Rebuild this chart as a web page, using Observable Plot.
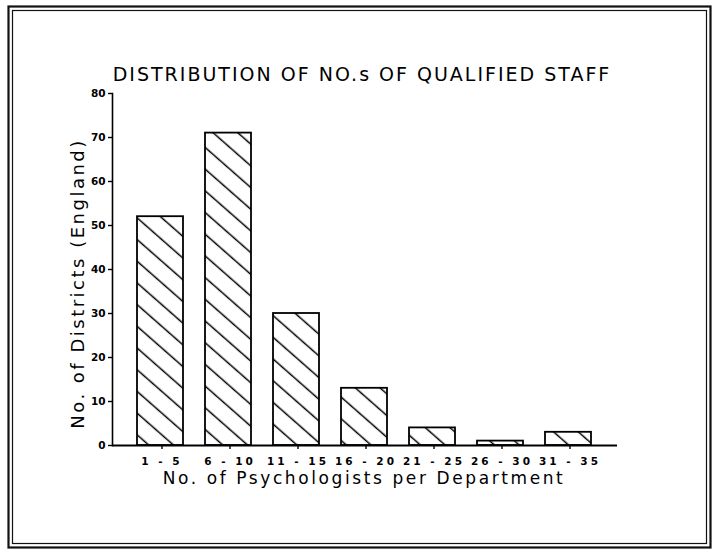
<!DOCTYPE html>
<html>
<head>
<meta charset="utf-8">
<script src="https://cdn.jsdelivr.net/npm/d3@7"></script>
<script src="https://cdn.jsdelivr.net/npm/@observablehq/plot@0.6"></script>
<style>
  html, body { margin: 0; padding: 0; background: #fff; }
  .ttl text { letter-spacing: 2px; }
  .ylab text { letter-spacing: 2.5px; }
  .xlab text { letter-spacing: 2.6px; }
  g[aria-label="x-axis tick label"] text { letter-spacing: 3px; }
</style>
</head>
<body>
<div id="chart"></div>
<script>
const categories = ["1 - 5", "6 - 10", "11 - 15", "16 - 20", "21 - 25", "26 - 30", "31 - 35"];
const districts = [52, 71, 30, 13, 4, 1, 3];
const yTicks = [0, 10, 20, 30, 40, 50, 60, 70, 80];
const titleText = "DISTRIBUTION OF NO.s OF QUALIFIED STAFF";
const xLabelText = "No. of Psychologists per Department";
const yLabelText = "No. of Districts (England)";

const data = categories.map((c, i) => ({range: c, count: districts[i]}));

const W = 713, H = 551;
const mL = 112, mR = 96, mT = 93, mB = 106;

const svg = Plot.plot({
  width: W,
  height: H,
  marginLeft: mL,
  marginRight: mR,
  marginTop: mT,
  marginBottom: mB,
  style: {fontFamily: "DejaVu Sans", color: "#000", background: "#fff", overflow: "visible"},
  x: {domain: categories, padding: 0.32, label: null},
  y: {domain: [0, 80], label: null},
  marks: [
    // double border
    Plot.frame({stroke: "#111", strokeWidth: 2.2, insetLeft: -(mL - 8), insetRight: -(mR - 3), insetTop: -(mT - 6), insetBottom: -(mB - 4)}),
    Plot.frame({stroke: "#111", strokeWidth: 1.2, insetLeft: -(mL - 12), insetRight: -(mR - 7), insetTop: -(mT - 10), insetBottom: -(mB - 8)}),
    Plot.barY(data, {x: "range", y: "count", fill: "url(#hatch)", stroke: "#000", strokeWidth: 1.8}),
    Plot.ruleY([0], {stroke: "#000", strokeWidth: 1.8}),
    Plot.frame({anchor: "left", stroke: "#000", strokeWidth: 1.6}),
    Plot.axisY({ticks: yTicks, tickSize: 4, tickPadding: 3, fontSize: 10.5, fontWeight: "bold", label: null, strokeWidth: 1.4}),
    Plot.axisX({tickSize: 4, tickPadding: 8, fontSize: 10.5, fontWeight: "bold", label: null, dx: 1.5, strokeWidth: 1.4}),
    Plot.text([titleText], {frameAnchor: "top", textAnchor: "middle", lineAnchor: "middle", dy: -19, dx: -3, fontSize: 19, className: "ttl", fill: "#000"}),
    Plot.text([xLabelText], {frameAnchor: "bottom", textAnchor: "middle", lineAnchor: "middle", dy: 33, dx: -1, fontSize: 17, className: "xlab", fill: "#000"}),
    Plot.text([yLabelText], {frameAnchor: "left", textAnchor: "middle", lineAnchor: "middle", dx: -34.5, dy: 14, rotate: -90, fontSize: 18, className: "ylab", fill: "#000"})
  ]
});

d3.select(svg).insert("defs", ":first-child").html(
  `<pattern id="hatch" patternUnits="userSpaceOnUse" width="16.3" height="16.3" patternTransform="rotate(41.3)">
     <rect width="16.3" height="16.3" fill="#fff"></rect>
     <line x1="-1" y1="8" x2="17.3" y2="8" stroke="#000" stroke-width="1.5"></line>
   </pattern>`
);

document.getElementById("chart").appendChild(svg);
</script>
</body>
</html>
